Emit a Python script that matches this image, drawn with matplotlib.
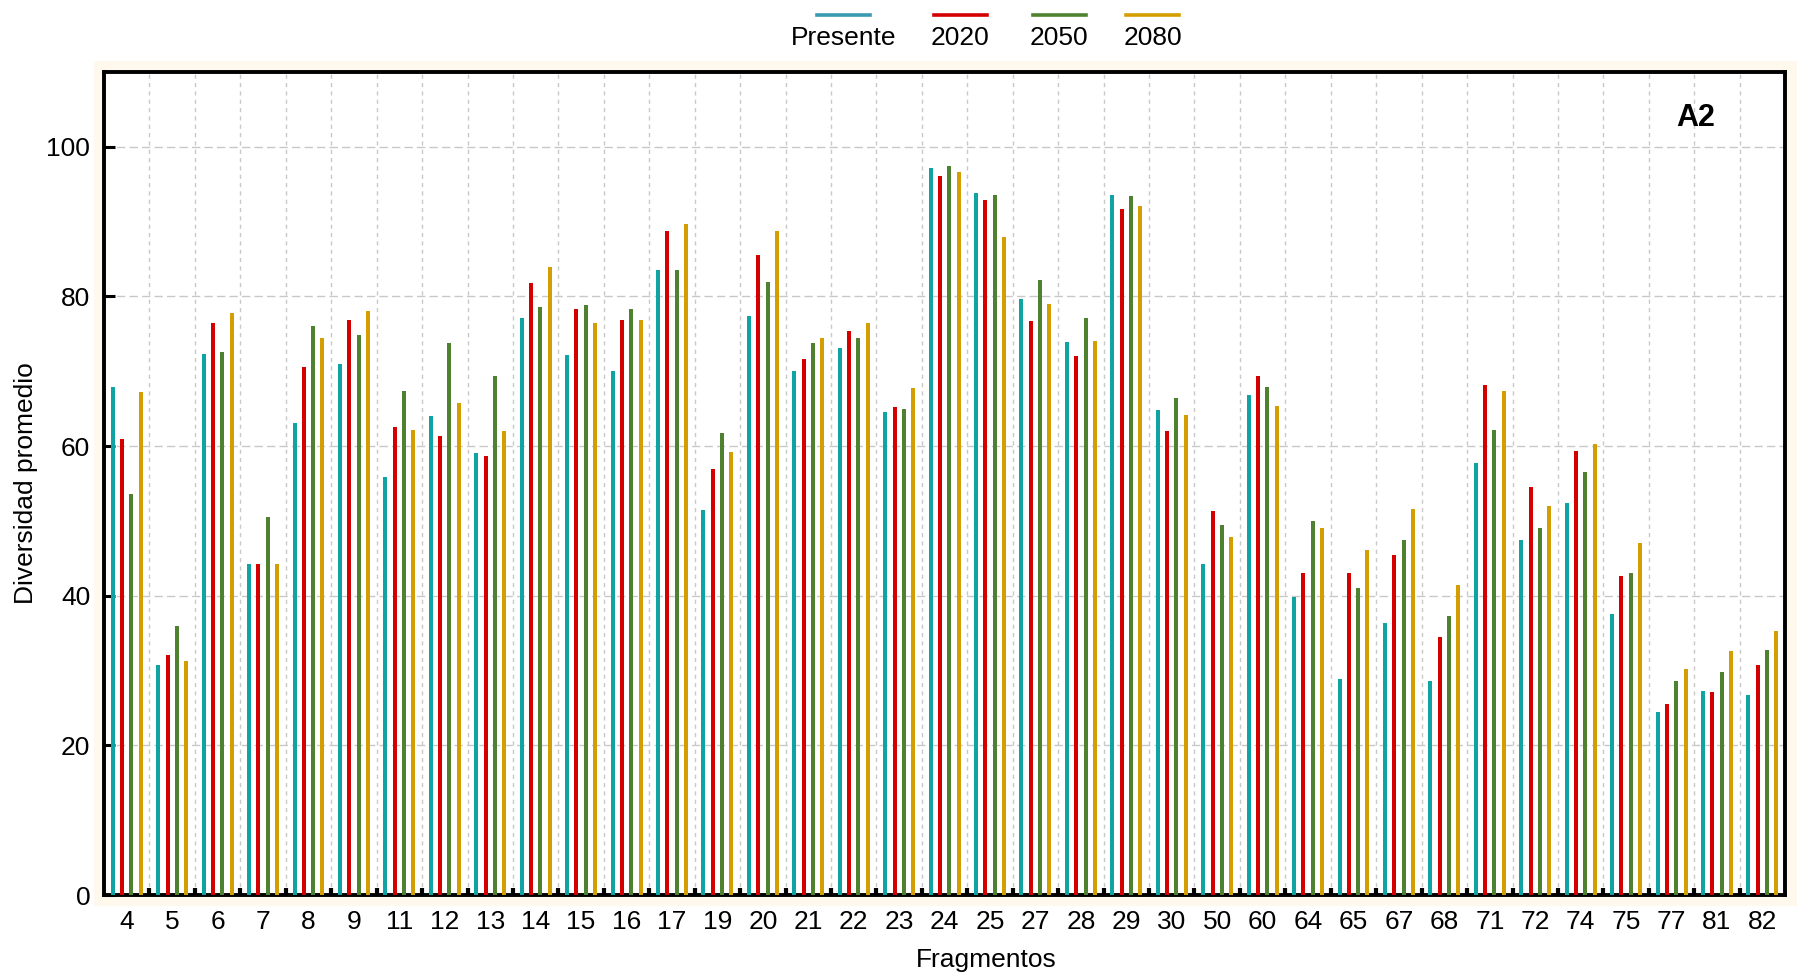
"""Diversidad promedio por fragmento, escenario A2"""

import matplotlib
matplotlib.use("Agg")
import matplotlib.pyplot as plt
from matplotlib.lines import Line2D
from matplotlib.patches import Rectangle
import numpy as np

plt.rcParams.update({
    "font.family": ["Liberation Sans", "DejaVu Sans"],
    "font.size": 19,
})

# ── data ──────────────────────────────────────────────────────────────────────
fragmentos = ["4", "5", "6", "7", "8", "9", "11", "12", "13", "14", "15", "16",
              "17", "19", "20", "21", "22", "23", "24", "25", "27", "28", "29",
              "30", "50", "60", "64", "65", "67", "68", "71", "72", "74", "75",
              "77", "81", "82"]

presente = [67.9, 30.8, 72.3, 44.3, 63.1, 71.0, 55.9, 64.0, 59.1, 77.1, 72.2,
            70.1, 83.5, 51.4, 77.4, 70.1, 73.1, 64.5, 97.2, 93.8, 79.6, 73.9,
            93.6, 64.8, 44.3, 66.8, 39.9, 28.9, 36.4, 28.6, 57.8, 47.4, 52.4,
            37.5, 24.5, 27.3, 26.7]
a2020 = [61.0, 32.1, 76.4, 44.3, 70.6, 76.8, 62.5, 61.4, 58.7, 81.8, 78.3,
         76.8, 88.8, 57.0, 85.6, 71.6, 75.4, 65.2, 96.1, 92.9, 76.7, 72.1,
         91.7, 62.0, 51.3, 69.4, 43.0, 43.0, 45.5, 34.5, 68.2, 54.5, 59.4,
         42.7, 25.5, 27.2, 30.7]
a2050 = [53.6, 35.9, 72.6, 50.5, 76.1, 74.9, 67.4, 73.8, 69.4, 78.6, 78.9,
         78.3, 83.6, 61.7, 82.0, 73.8, 74.5, 65.0, 97.4, 93.6, 82.2, 77.1,
         93.4, 66.4, 49.5, 67.9, 50.0, 41.0, 47.4, 37.3, 62.2, 49.0, 56.6,
         43.1, 28.6, 29.8, 32.7]
a2080 = [67.2, 31.3, 77.8, 44.3, 74.5, 78.1, 62.2, 65.7, 62.0, 83.9, 76.4,
         76.8, 89.7, 59.2, 88.7, 74.4, 76.5, 67.8, 96.6, 87.9, 79.0, 74.1,
         92.1, 64.1, 47.8, 65.4, 49.0, 46.1, 51.6, 41.5, 67.4, 52.0, 60.3,
         47.0, 30.2, 32.6, 35.3]

series = ["Presente", "2020", "2050", "2080"]
values = [presente, a2020, a2050, a2080]
colors = ["#0FA3A3", "#D40000", "#4E8230", "#D49E00"]
legend_colors = ["#3A9AB2", "#D40000", "#4E8230", "#D49E00"]

# ── figure ────────────────────────────────────────────────────────────────────
fig = plt.figure(figsize=(17.97, 9.8), dpi=100)

# faint cream panel behind the plot area
cream = Rectangle((0.0523, 0.0755), 0.9477, 0.8623,
                  transform=fig.transFigure, facecolor="#FFF8EC",
                  edgecolor="none", zorder=-10)
fig.patches.append(cream)

ax = fig.add_axes([0.0579, 0.0867, 0.9355, 0.8398])
ax.set_facecolor("white")

x = np.arange(len(fragmentos))
step = 0.205
width = 0.088
for i, (vals, col) in enumerate(zip(values, colors)):
    ax.bar(x + (i - 1.5) * step, vals, width, color=col, zorder=3)

ax.set_xlim(-0.5, len(fragmentos) - 0.5)
ax.set_ylim(0, 110)

ax.set_xticks(x)
ax.set_xticklabels(fragmentos)
ax.set_xticks(x[:-1] + 0.5, minor=True)
ax.set_yticks([0, 20, 40, 60, 80, 100])

ax.tick_params(axis="x", which="major", length=0, pad=11, labelsize=19)
ax.tick_params(axis="x", which="minor", direction="in", length=5, width=3,
               color="black")
ax.tick_params(axis="y", which="major", direction="in", length=8, width=2.2,
               pad=10, labelsize=19)

# grid: horizontal at y ticks, vertical at group boundaries
ax.yaxis.grid(True, color="#c8c8c8", linestyle=(0, (6, 3)), linewidth=1.0,
              zorder=0)
ax.xaxis.grid(True, which="minor", color="#c8c8c8", linestyle=(0, (3, 3)),
              linewidth=1.0, zorder=0)
ax.set_axisbelow(True)

for sp in ax.spines.values():
    sp.set_linewidth(2.8)
    sp.set_color("black")

ax.set_xlabel("Fragmentos", fontsize=19, va="center")
ax.xaxis.set_label_coords(0.525, -0.079)
ax.set_ylabel("Diversidad promedio", fontsize=19, va="center")
ax.yaxis.set_label_coords(-0.0465, 0.5)

ax.text(0.947, 0.944, "A2", transform=ax.transAxes, ha="center", va="center",
        fontsize=22, fontweight="bold")

# legend: short line above each label
legend_x = [0.4695, 0.5345, 0.5895, 0.6415]
for lx, name, col in zip(legend_x, series, legend_colors):
    fig.add_artist(Line2D([lx - 0.0148, lx + 0.0148], [0.9847, 0.9847],
                          transform=fig.transFigure, color=col, linewidth=2.6))
    fig.text(lx, 0.961, name, ha="center", va="center", fontsize=19)

fig.savefig("out.png", dpi=100)
plt.close(fig)
